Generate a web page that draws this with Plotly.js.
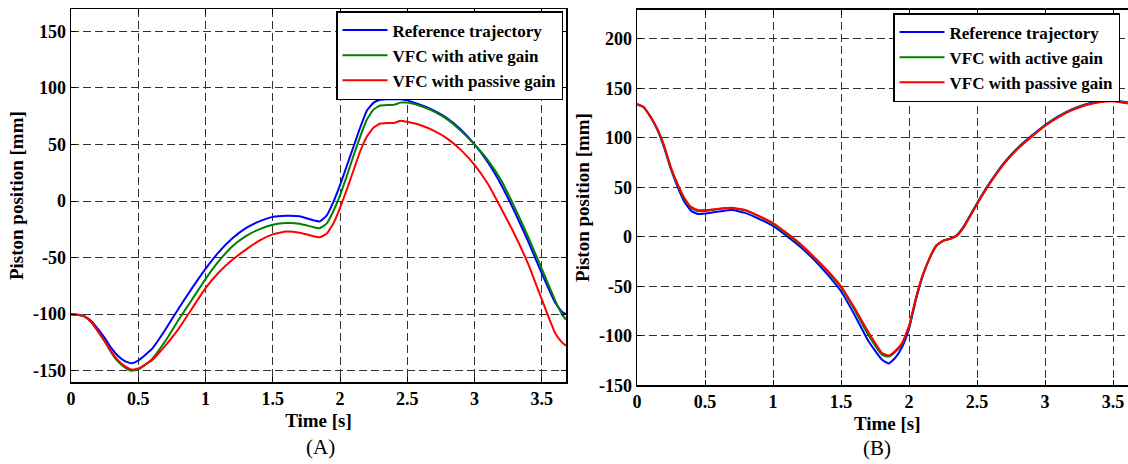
<!DOCTYPE html>
<html>
<head>
<meta charset="utf-8">
<script src="https://cdn.plot.ly/plotly-3.0.1.min.js"></script>
<style>
html,body{margin:0;padding:0;overflow:hidden;background:#fff;}
#chart{width:1140px;height:464px;}
</style>
</head>
<body>
<div id="chart"></div>
<script>
// ---------- Panel (A) data ----------
const timeA = [0,0.05,0.1,0.15,0.2,0.25,0.3,0.35,0.4,0.45,0.5,0.6,0.7,0.8,0.9,1.0,1.1,1.2,1.3,1.4,1.5,1.6,1.7,1.8,1.85,1.9,1.95,2.0,2.05,2.1,2.15,2.2,2.25,2.3,2.35,2.4,2.45,2.5,2.6,2.7,2.8,2.9,3.0,3.1,3.2,3.3,3.4,3.5,3.6,3.65,3.68];
const refA = [-100,-100.5,-102,-106,-113,-121,-130,-137,-141.5,-143.5,-141,-131,-114,-95,-77,-60,-45,-33,-24,-18,-14,-13,-13.5,-17,-18,-13,-1,14,31,48,65,80,87,89.5,90,90,90,89,85,80,73,63,50,34,14,-10,-36,-64,-90,-98,-100];
const activeA = [-100,-100.5,-102,-107,-115,-124,-134,-142,-147,-150,-149,-140,-124,-105,-87,-69,-53,-40,-31,-25,-21,-19.5,-20,-23,-24,-20,-9,5,22,40,57,72,81,84.5,85,85,87,87,84,79,72,62,50,36,18,-6,-32,-60,-88,-100,-105];
const passiveA = [-100,-100.5,-102,-107,-115,-124,-133,-141,-146,-149,-148,-141,-128,-113,-95,-77,-63,-52,-43,-35,-29.5,-27,-28,-31,-32,-29,-20,-6,10,27,44,57,65,68.5,69,69,71,70,67,62,55,45,32,15,-7,-30,-56,-87,-117,-125,-128];

// ---------- Panel (B) data ----------
const timeB = [0,0.05,0.1,0.15,0.2,0.25,0.3,0.35,0.4,0.45,0.5,0.6,0.7,0.8,0.9,1.0,1.1,1.2,1.3,1.4,1.5,1.6,1.7,1.8,1.85,1.9,1.95,2.0,2.05,2.1,2.15,2.2,2.25,2.3,2.35,2.4,2.5,2.6,2.7,2.8,2.9,3.0,3.1,3.2,3.3,3.4,3.5,3.6,3.68];
const refB = [134,131,121,108,90,68,50,35,26,23,23.5,25.5,27,24,18,11,1,-10,-23,-38,-55,-79,-105,-124,-128,-122,-111,-93,-64,-40,-22,-9,-4,-2,1.5,10,34,56,75,90,102,113,122,129,134,137,138,136,134];
const activeB = [134,131,121,108.5,91,69,52,38,29,26,26,28,29,26.5,20.5,13,3,-8,-21,-35,-51,-74,-99,-119,-121,-116,-108,-91,-63,-39,-22,-9,-4,-2,1,9.5,33.5,55.5,74.5,89.5,101.5,112.5,121.5,128.5,133.5,136.5,137.5,135.5,133.5];
const passiveB = [134,131,121,109,92,70,53,39,30,27,27,28.5,29.5,27,21,14,4,-7,-20,-34,-50,-72,-96,-117,-120,-115,-107,-90,-62,-39,-22,-9,-4,-2,1,9,33,55,74,89,101,112,121,128,133,136,137,135,133];

// ---------- Labels ----------
const namesA = ['Reference trajectory','VFC with ative gain','VFC with passive gain'];
const namesB = ['Reference trajectory','VFC with active gain','VFC with passive gain'];
const xTickVals = [0,0.5,1,1.5,2,2.5,3,3.5];
const xTickText = ['0','0.5','1','1.5','2','2.5','3','3.5'];
const yTickValsA = [-150,-100,-50,0,50,100,150];
const yTickTextA = ['-150','-100','-50','0','50','100','150'];
const yTickValsB = [-150,-100,-50,0,50,100,150,200];
const yTickTextB = ['-150','-100','-50','0','50','100','150','200'];
const xTitle = 'Time [s]';
const yTitle = 'Piston position [mm]';
const panelLabels = ['(A)','(B)'];
const colors = ['#0000ff','#008000','#ff0000'];

const W = 1140, H = 464;
const serif = 'Liberation Serif, Times New Roman, serif';
const boldFont = (s) => ({family: serif, size: s, color: '#000', weight: 'bold'});

function mk(x, y, name, color, xa, ya, leg) {
  return {x: x, y: y, name: name, type: 'scatter', mode: 'lines',
    line: {color: color, width: 2, shape: 'spline', smoothing: 0.4},
    xaxis: xa, yaxis: ya, legend: leg, hoverinfo: 'skip'};
}
const seriesA = [refA, activeA, passiveA];
const seriesB = [refB, activeB, passiveB];
const traces = [];
seriesA.forEach((s, i) => traces.push(mk(timeA, s, namesA[i], colors[i], 'x', 'y', 'legend')));
seriesB.forEach((s, i) => traces.push(mk(timeB, s, namesB[i], colors[i], 'x2', 'y2', 'legend2')));

function xAxis(domain, anchor) {
  return {domain: domain, anchor: anchor, range: [0, 3.68],
    tickvals: xTickVals, ticktext: xTickText, tickfont: boldFont(18),
    ticks: 'inside', ticklen: 5, tickcolor: '#000', tickwidth: 1,
    showline: true, linecolor: '#000', linewidth: 1.5, mirror: 'ticks',
    showgrid: true, gridcolor: '#333', gridwidth: 1, griddash: '8px,4px',
    zeroline: false,
    title: {text: xTitle, font: boldFont(19), standoff: 5}};
}
function yAxis(domain, anchor, range, vals, text) {
  return {domain: domain, anchor: anchor, range: range,
    tickvals: vals, ticktext: text, tickfont: boldFont(18),
    ticks: 'inside', ticklen: 5, tickcolor: '#000', tickwidth: 1,
    showline: true, linecolor: '#000', linewidth: 1.5, mirror: 'ticks',
    showgrid: true, gridcolor: '#333', gridwidth: 1, griddash: '8px,4px',
    zeroline: false,
    title: {text: yTitle, font: boldFont(19), standoff: 4}};
}

const legendBase = {font: boldFont(17), bgcolor: '#fff', bordercolor: '#000', borderwidth: 1.5,
  itemwidth: 45, tracegroupgap: 0, traceorder: 'normal', xref: 'paper', yref: 'paper'};

const layout = {
  width: W, height: H,
  margin: {l: 0, r: 0, t: 0, b: 0, autoexpand: false},
  paper_bgcolor: '#fff', plot_bgcolor: '#fff',
  showlegend: true,
  xaxis: xAxis([71/W, 566/W], 'y'),
  yaxis: yAxis([(H-382)/H, (H-9.3)/H], 'x', [-160, 169.5], yTickValsA, yTickTextA),
  xaxis2: xAxis([637/W, 1137.5/W], 'y2'),
  yaxis2: yAxis([(H-385.3)/H, (H-9.7)/H], 'x2', [-150, 229.5], yTickValsB, yTickTextB),
  legend: Object.assign({}, legendBase, {x: 563/W, xanchor: 'right', y: (H-11)/H, yanchor: 'top'}),
  legend2: Object.assign({}, legendBase, {x: 893/W, xanchor: 'left', y: (H-13)/H, yanchor: 'top'}),
  annotations: [
    {text: panelLabels[0], xref: 'paper', yref: 'paper', x: 320.5/W, y: (H-447)/H,
     xanchor: 'center', yanchor: 'middle', showarrow: false,
     font: {family: serif, size: 21, color: '#000'}},
    {text: panelLabels[1], xref: 'paper', yref: 'paper', x: 877/W, y: (H-448)/H,
     xanchor: 'center', yanchor: 'middle', showarrow: false,
     font: {family: serif, size: 21, color: '#000'}}
  ]
};

Plotly.newPlot('chart', traces, layout, {staticPlot: true, displayModeBar: false});
</script>
</body>
</html>
